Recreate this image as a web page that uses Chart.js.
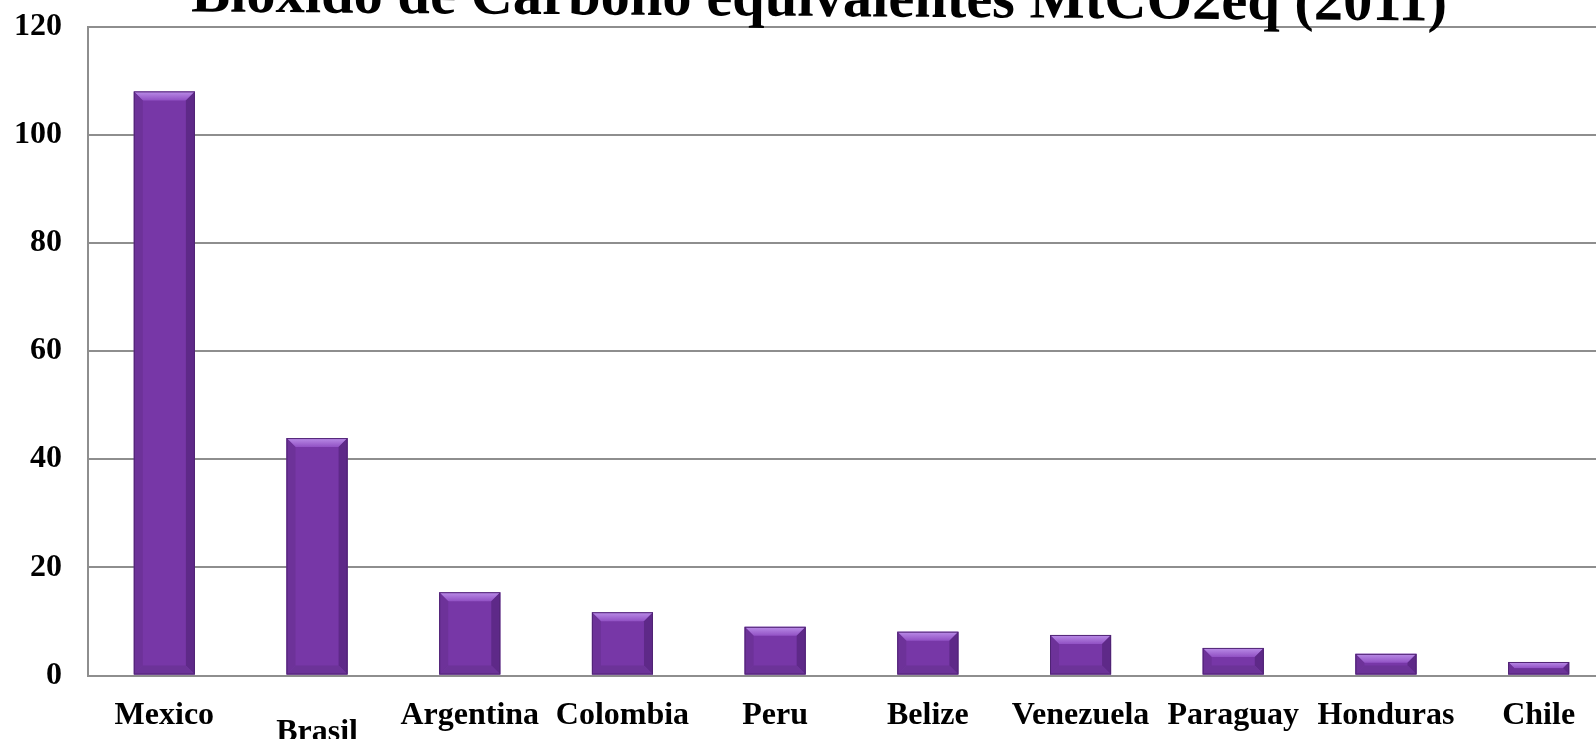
<!DOCTYPE html>
<html>
<head>
<meta charset="utf-8">
<script src="https://cdn.jsdelivr.net/npm/chart.js@4.4.1/dist/chart.umd.min.js"></script>
<style>
  html, body { margin: 0; padding: 0; background: #fff; }
  #wrap { width: 1596px; height: 739px; overflow: hidden; position: relative; }
  canvas { display: block; }
</style>
</head>
<body>
<div id="wrap">
  <canvas id="chart" width="1640" height="739"></canvas>
</div>
<script>
const title = 'Bioxido de Carbono equivalentes MtCO2eq (2011)';
const countries = ['Mexico', 'Brasil', 'Argentina', 'Colombia', 'Peru', 'Belize', 'Venezuela', 'Paraguay', 'Honduras', 'Chile'];
const emissions = [108, 43.9, 15.4, 11.7, 9.0, 8.1, 7.5, 5.1, 4.0, 2.5];
const yMin = 0;
const yMax = 120;
const yStep = 20;

const serif = "'Liberation Serif', 'Times New Roman', serif";

// bevelled look of the bars, drawn over each bar element
const bevelPlugin = {
  id: 'bevel',
  afterDatasetsDraw(chart) {
    const ctx = chart.ctx;
    chart.getDatasetMeta(0).data.forEach(bar => {
      const l = bar.x - bar.width / 2, r = bar.x + bar.width / 2;
      const t = bar.y, b = bar.base;
      const d = Math.min(9, (b - t) / 2);
      ctx.save();
      const g = ctx.createLinearGradient(0, t, 0, t + d);
      g.addColorStop(0, '#bb8ee8');
      g.addColorStop(1, '#9151c4');
      ctx.fillStyle = g;
      ctx.beginPath();
      ctx.moveTo(l, t); ctx.lineTo(r, t); ctx.lineTo(r - d, t + d); ctx.lineTo(l + d, t + d);
      ctx.closePath(); ctx.fill();
      ctx.fillStyle = '#6d3299';
      ctx.beginPath();
      ctx.moveTo(l, t); ctx.lineTo(l + d, t + d); ctx.lineTo(l + d, b - d); ctx.lineTo(l, b);
      ctx.closePath(); ctx.fill();
      ctx.fillStyle = '#5e2988';
      ctx.beginPath();
      ctx.moveTo(r, t); ctx.lineTo(r - d, t + d); ctx.lineTo(r - d, b - d); ctx.lineTo(r, b);
      ctx.closePath(); ctx.fill();
      ctx.fillStyle = '#6c3398';
      ctx.beginPath();
      ctx.moveTo(l, b); ctx.lineTo(l + d, b - d); ctx.lineTo(r - d, b - d); ctx.lineTo(r, b);
      ctx.closePath(); ctx.fill();
      ctx.strokeStyle = '#502474';
      ctx.lineWidth = 1;
      ctx.strokeRect(l + 0.5, t + 0.5, r - l - 1, b - t - 1);
      ctx.restore();
    });
  }
};

// title (cropped at the top, slightly tilted) and the category labels
const textPlugin = {
  id: 'texts',
  afterDraw(chart) {
    const ctx = chart.ctx;
    const x = chart.scales.x;
    ctx.save();
    ctx.fillStyle = '#000';
    ctx.font = 'bold 58.5px ' + serif;
    ctx.textAlign = 'center';
    ctx.textBaseline = 'alphabetic';
    ctx.translate(819, 16);
    ctx.rotate(0.0072);
    ctx.fillText(title, 0, 0);
    ctx.restore();

    ctx.save();
    ctx.fillStyle = '#000';
    ctx.font = 'bold 32px ' + serif;
    ctx.textAlign = 'center';
    ctx.textBaseline = 'alphabetic';
    countries.forEach((c, i) => {
      const drop = c === 'Brasil' ? 17 : 0;
      ctx.fillText(c, x.getPixelForValue(i), chart.chartArea.bottom + 48 + drop);
    });
    ctx.restore();
  }
};

new Chart(document.getElementById('chart'), {
  type: 'bar',
  data: {
    labels: countries,
    datasets: [{
      data: emissions,
      backgroundColor: '#7737a7',
      borderWidth: 0,
      barPercentage: 0.4,
      categoryPercentage: 1
    }]
  },
  options: {
    responsive: false,
    animation: false,
    devicePixelRatio: 1,
    layout: { padding: { top: 26.5, right: 25, bottom: 0, left: 0 } },
    plugins: {
      legend: { display: false },
      title: { display: false },
      tooltip: { enabled: false }
    },
    scales: {
      x: {
        grid: { display: false },
        border: { display: true, color: '#8e8e8e', width: 2 },
        ticks: { display: false },
        afterFit(s) { s.height = 63.5; }
      },
      y: {
        min: yMin,
        max: yMax,
        grid: { color: '#8e8e8e', lineWidth: 2, drawTicks: false },
        border: { display: true, color: '#8e8e8e', width: 2 },
        ticks: {
          stepSize: yStep,
          padding: 26,
          color: '#000',
          font: { family: serif, size: 32, weight: 'bold' }
        },
        afterFit(s) {
          s.width = 88;
          s.paddingTop = 0;
          s.paddingBottom = 0;
        }
      }
    }
  },
  plugins: [bevelPlugin, textPlugin]
});
</script>
</body>
</html>
